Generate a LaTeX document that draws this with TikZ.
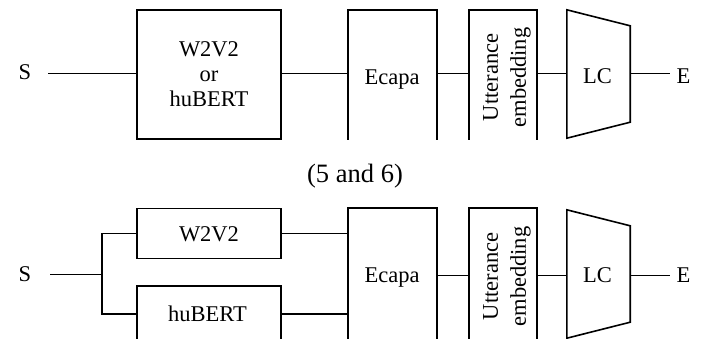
\documentclass[tikz,border=0pt]{standalone}
\usepackage{fontspec}
\setmainfont{Liberation Serif}
\usetikzlibrary{calc}
\begin{document}
\begin{tikzpicture}[x=1pt,y=-1pt,
  every node/.style={font=\fontsize{22.5}{25}\selectfont},
  blk/.style={draw, line width=1.6pt, inner sep=0pt},
  ghost/.style={inner sep=0pt},
  wire/.style={line width=1.6pt},
  lbl/.style={inner sep=0pt, anchor=base},
  vlbl/.style={inner sep=0pt, rotate=90, align=center,
               font=\fontsize{22.5}{28}\selectfont},
  ]
\useasboundingbox (0,0) rectangle (704,338);
\fill[white] (0,0) rectangle (704,338);

% ---------- upper pipeline: one shared encoder ----------
\begin{scope}
\clip (0,0) rectangle (704,139.2);
\coordinate (r1) at (0,73.5);
\node[lbl] (s1) at (25,79.5) {S};
\node[blk, minimum width=144, minimum height=129] (enc) at (209,74.5) {};
\node[ghost, align=center] (enct) at (209,73.7) {W2V2\\or\\huBERT};
\node[blk, minimum width=89, minimum height=136] (ec1) at (392.5,78) {};
\node[lbl] (ec1t) at (392,84) {Ecapa};
\node[blk, minimum width=68, minimum height=136] (ut1) at (503,78) {};
\node[vlbl] (ut1t) at (507,77.5) {Utterance\\embedding};
\node[ghost, minimum width=63, minimum height=128] (lc1) at (598.5,74) {};
\draw[wire] (lc1.north west) -- ($(lc1.north east)+(0,16)$)
  -- ($(lc1.south east)+(0,-16)$) -- (lc1.south west) -- cycle;
\node[lbl] (lc1t) at (597.5,83.5) {LC};
\node[lbl] (e1) at (683.5,83.5) {E};

\draw[wire, shorten <=17pt] (s1.east |- r1) -- (enc.west |- r1);
\draw[wire] (enc.east |- r1) -- (ec1.west |- r1);
\draw[wire] (ec1.east |- r1) -- (ut1.west |- r1);
\draw[wire] (ut1.east |- r1) -- (lc1.west |- r1);
\draw[wire, shorten >=6.5pt] (lc1.east |- r1) -- (e1.west |- r1);
\end{scope}

\node[lbl, font=\fontsize{26.5}{30}\selectfont] (cap) at (355,182) {(5 and 6)};

% ---------- lower pipeline: two parallel encoders ----------
\begin{scope}
\clip (0,140) rectangle (704,338);
\coordinate (r2) at (0,275.5);
\coordinate (br) at (102,274.5);
\node[lbl] (s2) at (25,281) {S};
\node[blk, minimum width=144, minimum height=50] (w2) at (209,233.5) {};
\node[lbl] (w2t) at (209,241) {W2V2};
\node[blk, minimum width=144, minimum height=56] (hb) at (209,314) {};
\node[lbl] (hbt) at (207.5,321.5) {huBERT};
\node[blk, minimum width=89, minimum height=136] (ec2) at (392.5,276) {};
\node[lbl] (ec2t) at (392,282) {Ecapa};
\node[blk, minimum width=68, minimum height=136] (ut2) at (503,276) {};
\node[vlbl] (ut2t) at (507,276.5) {Utterance\\embedding};
\node[ghost, minimum width=63, minimum height=128] (lc2) at (598.5,274) {};
\draw[wire] (lc2.north west) -- ($(lc2.north east)+(0,16)$)
  -- ($(lc2.south east)+(0,-16)$) -- (lc2.south west) -- cycle;
\node[lbl] (lc2t) at (597.5,282) {LC};
\node[lbl] (e2) at (683.5,282) {E};

\draw[wire, shorten <=19pt] (s2.east |- br) -- (br);
\draw[wire] (w2.west) -| (br) |- (hb.west);
\draw[wire] (w2.east) -- (ec2.west |- w2.east);
\draw[wire] (hb.east) -- (ec2.west |- hb.east);
\draw[wire] (ec2.east |- r2) -- (ut2.west |- r2);
\draw[wire] (ut2.east |- r2) -- (lc2.west |- r2);
\draw[wire, shorten >=6.5pt] (lc2.east |- r2) -- (e2.west |- r2);
\end{scope}
\end{tikzpicture}
\end{document}
